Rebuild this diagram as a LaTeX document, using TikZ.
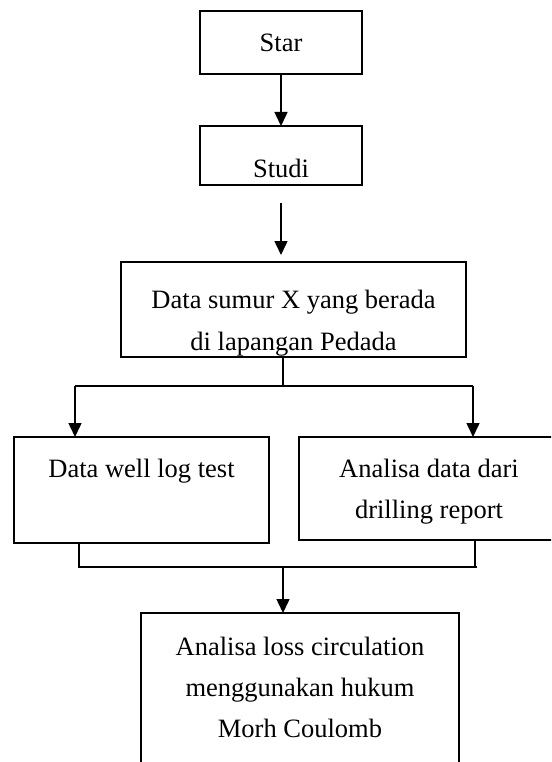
\documentclass[tikz,border=0pt]{standalone}
\usepackage{fontspec}
\setmainfont{Liberation Serif}
\usetikzlibrary{arrows.meta}
\begin{document}
\begin{tikzpicture}[x=1pt,y=-1pt,
  box/.style={draw, line width=1.6pt, rectangle, inner sep=0pt, outer sep=0pt},
  txt/.style={anchor=base, inner sep=0pt, font=\fontsize{26.5}{41}\selectfont},
  conn/.style={line width=1.5pt},
  arr/.style={conn, -{Triangle[length=14pt,width=13pt]}}]
\useasboundingbox (0,0) rectangle (551,762);
\clip (0,0) rectangle (551,762);
\fill[white] (0,0) rectangle (551,762);
% texts
\node[txt] (t1) at (281,52) {Star};
\node[txt] (t2) at (281,177) {Studi};
\node[txt] (t3a) at (293.5,308) {Data sumur X yang berada};
\node[txt] (t3b) at (293.5,350) {di lapangan Pedada};
\node[txt] (t4) at (141.5,477) {Data well log test};
\node[txt] (t5a) at (429,477) {Analisa data dari};
\node[txt] (t5b) at (429,518) {drilling report};
\node[txt] (t6a) at (300,655) {Analisa loss circulation};
\node[txt] (t6b) at (300,696) {menggunakan hukum};
\node[txt] (t6c) at (300,737) {Morh Coulomb};
% boxes
\node[box, minimum width=162pt, minimum height=63pt] (star) at (281,42.5) {};
\node[box, minimum width=162pt, minimum height=59pt] (studi) at (281,155.5) {};
\node[box, minimum width=345pt, minimum height=95pt] (data) at (293.5,309.5) {};
\node[box, minimum width=255pt, minimum height=106pt] (well) at (141.5,490) {};
\node[box, minimum width=261pt, minimum height=103pt] (drill) at (429.5,488.5) {};
\node[box, minimum width=318pt, minimum height=186pt] (mohr) at (300,706) {};
% coordinates
\coordinate (a1) at (281,203);
\coordinate (a2) at (281,255);
\coordinate (j1) at (283,386);
\coordinate (jl) at (75,386);
\coordinate (jr) at (473,386);
\coordinate (bl) at (79,567);
\coordinate (br) at (477,567);
\coordinate (br2) at (475,567);
\coordinate (jb) at (283,567);
% connectors
\draw[arr] (star.south) -- (studi.north);
\draw[arr] (a1) -- (a2);
\draw[conn] (data.south -| j1) -- (j1);
\draw[conn] (jl) -- (jr);
\draw[arr] (jl) -- (jl |- well.north);
\draw[arr] (jr) -- (jr |- drill.north);
\draw[conn] (bl |- well.south) -- (bl) -- (br);
\draw[conn] (br2 |- drill.south) -- (br2);
\draw[arr] (jb) -- (jb |- mohr.north);
\end{tikzpicture}
\end{document}
